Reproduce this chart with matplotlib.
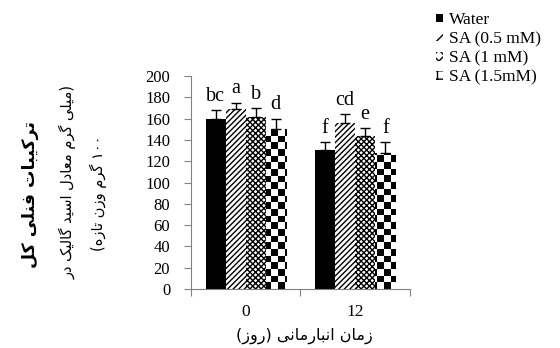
import numpy as np
import matplotlib
matplotlib.use('Agg')
from matplotlib import pyplot as plt
from matplotlib.patches import Rectangle

days = ['0', '12']
treatments = ['Water', 'SA (0.5 mM)', 'SA (1 mM)', 'SA (1.5mM)']
water = [160, 131]
sa_05 = [169, 156]
sa_1 = [162, 144]
sa_15 = [150, 128]
water_err = [8, 7]
sa_05_err = [6, 8]
sa_1_err = [8, 7]
sa_15_err = [10, 10]
water_sig = ['bc', 'f']
sa_05_sig = ['a', 'cd']
sa_1_sig = ['b', 'e']
sa_15_sig = ['d', 'f']

ylabel_lines = ['ترکیبات فنلی کل', '(میلی گرم معادل اسید گالیک در', '۱۰۰ گرم وزن تازه)']
xlabel = 'زمان انبارمانی (روز)'

# arabic presentation forms: isolated, final, initial, medial
FORMS = {
    'ا': ('\uFE8D', '\uFE8E', None, None),
    'آ': ('\uFE81', '\uFE82', None, None),
    'ب': ('\uFE8F', '\uFE90', '\uFE91', '\uFE92'),
    'پ': ('\uFB56', '\uFB57', '\uFB58', '\uFB59'),
    'ت': ('\uFE95', '\uFE96', '\uFE97', '\uFE98'),
    'ج': ('\uFE9D', '\uFE9E', '\uFE9F', '\uFEA0'),
    'چ': ('\uFB7A', '\uFB7B', '\uFB7C', '\uFB7D'),
    'ح': ('\uFEA1', '\uFEA2', '\uFEA3', '\uFEA4'),
    'خ': ('\uFEA5', '\uFEA6', '\uFEA7', '\uFEA8'),
    'د': ('\uFEA9', '\uFEAA', None, None),
    'ذ': ('\uFEAB', '\uFEAC', None, None),
    'ر': ('\uFEAD', '\uFEAE', None, None),
    'ز': ('\uFEAF', '\uFEB0', None, None),
    'ژ': ('\uFB8A', '\uFB8B', None, None),
    'س': ('\uFEB1', '\uFEB2', '\uFEB3', '\uFEB4'),
    'ش': ('\uFEB5', '\uFEB6', '\uFEB7', '\uFEB8'),
    'ص': ('\uFEB9', '\uFEBA', '\uFEBB', '\uFEBC'),
    'ط': ('\uFEC1', '\uFEC2', '\uFEC3', '\uFEC4'),
    'ع': ('\uFEC9', '\uFECA', '\uFECB', '\uFECC'),
    'غ': ('\uFECD', '\uFECE', '\uFECF', '\uFED0'),
    'ف': ('\uFED1', '\uFED2', '\uFED3', '\uFED4'),
    'ق': ('\uFED5', '\uFED6', '\uFED7', '\uFED8'),
    'ک': ('\uFB8E', '\uFB8F', '\uFB90', '\uFB91'),
    'گ': ('\uFB92', '\uFB93', '\uFB94', '\uFB95'),
    'ل': ('\uFEDD', '\uFEDE', '\uFEDF', '\uFEE0'),
    'م': ('\uFEE1', '\uFEE2', '\uFEE3', '\uFEE4'),
    'ن': ('\uFEE5', '\uFEE6', '\uFEE7', '\uFEE8'),
    'ه': ('\uFEE9', '\uFEEA', '\uFEEB', '\uFEEC'),
    'و': ('\uFEED', '\uFEEE', None, None),
    'ی': ('\uFBFC', '\uFBFD', '\uFBFE', '\uFBFF'),
}
MIRROR = {'(': ')', ')': '('}


def rtl(text):
    shaped = []
    for i, ch in enumerate(text):
        if ch not in FORMS:
            shaped.append(ch)
            continue
        prev = text[i - 1] if i > 0 else None
        nxt = text[i + 1] if i + 1 < len(text) else None
        join_prev = prev in FORMS and FORMS[prev][2] is not None
        join_next = nxt in FORMS and FORMS[ch][2] is not None
        iso, fin, ini, med = FORMS[ch]
        if join_prev and join_next:
            shaped.append(med)
        elif join_prev:
            shaped.append(fin)
        elif join_next:
            shaped.append(ini)
        else:
            shaped.append(iso)
    # visual order, digit runs stay left to right
    runs = []
    for ch in shaped:
        is_digit = ch.isdigit()
        if runs and runs[-1][0] and is_digit:
            runs[-1][1].append(ch)
        else:
            runs.append([is_digit, [ch]])
    out = ''
    for is_digit, chars in reversed(runs):
        if is_digit:
            out += ''.join(chars)
        else:
            out += ''.join(MIRROR.get(c, c) for c in reversed(chars))
    return out


plt.rcParams['font.family'] = ['Liberation Serif', 'DejaVu Sans']
plt.rcParams['hatch.linewidth'] = 1.0

fig = plt.figure(figsize=(5.6, 3.48), dpi=100)
ax = fig.add_axes([0.341, 0.1695, 0.391, 0.612])

x = np.arange(len(days))
w = 0.183
series = [water, sa_05, sa_1, sa_15]
errs = [water_err, sa_05_err, sa_1_err, sa_15_err]
sigs = [water_sig, sa_05_sig, sa_1_sig, sa_15_sig]
hatches = [None, '//////', 'xxxxxx', None]
colors = ['black', 'white', 'white', 'white']

checker = np.indices((32, 33)).sum(axis=0) % 2

for k in range(4):
    pos = x + (k - 1.5) * w
    bars = ax.bar(pos, series[k], w, color=colors[k], edgecolor='black',
                  linewidth=0, hatch=hatches[k], zorder=2)
    if k == 3:
        for b in bars:
            im = ax.imshow(checker, cmap='gray', extent=(-0.5, 1.5, 0, 200),
                           aspect='auto', interpolation='nearest', zorder=2.5)
            im.set_clip_path(b)
    ax.errorbar(pos, series[k], yerr=[np.zeros(2), errs[k]], fmt='none',
                ecolor='black', elinewidth=1, capsize=3.5, capthick=1, zorder=3)
    for p, v, e, s in zip(pos, series[k], errs[k], sigs[k]):
        ax.text(p, v + e + 4, s, ha='center', va='bottom', fontsize=14.5,
                family='Liberation Serif')

ax.set_xlim(-0.5, 1.5)
ax.set_ylim(0, 200)
ax.set_yticks(range(0, 201, 20))
ax.set_xticks([-0.5, 0.5, 1.5])
ax.set_xticklabels([])
ax.set_xticks(x, minor=True)
ax.set_xticklabels(days, minor=True)
ax.tick_params(axis='x', which='minor', length=0, pad=11, labelsize=12.5)
ax.tick_params(axis='x', which='major', length=5, color='#808080')
ax.tick_params(axis='y', length=5, color='#808080', labelsize=12, pad=10)
for side in ['top', 'right']:
    ax.spines[side].set_visible(False)
for side in ['left', 'bottom']:
    ax.spines[side].set_color('#808080')

fig.text(0.054, 0.44, rtl(ylabel_lines[0]), rotation=90, ha='center', va='center',
         fontsize=12.5, family='DejaVu Sans', fontweight='bold')
fig.text(0.121, 0.477, rtl(ylabel_lines[1]), rotation=90, ha='center', va='center',
         fontsize=10.5, family='DejaVu Sans')
fig.text(0.175, 0.445, rtl(ylabel_lines[2]), rotation=90, ha='center', va='center',
         fontsize=10.5, family='DejaVu Sans')
fig.text(0.543, 0.035, rtl(xlabel), ha='center', va='center', fontsize=11.5,
         family='DejaVu Sans')

handles = [
    Rectangle((0, 0), 1, 1, facecolor='black', edgecolor='black', linewidth=0),
    Rectangle((0, 0), 1, 1, facecolor='white', edgecolor='black', linewidth=0, hatch='///'),
    Rectangle((0, 0), 1, 1, facecolor='white', edgecolor='black', linewidth=0, hatch='xxx'),
    Rectangle((0, 0), 1, 1, facecolor='white', edgecolor='black', linewidth=0, hatch='++'),
]
fig.legend(handles, treatments, loc='upper left', bbox_to_anchor=(0.778, 0.965),
           frameon=False, fontsize=12.5, handlelength=0.4, handleheight=0.4,
           handletextpad=0.35, labelspacing=0.18, borderpad=0, borderaxespad=0)

fig.savefig('out.png', dpi=100)
